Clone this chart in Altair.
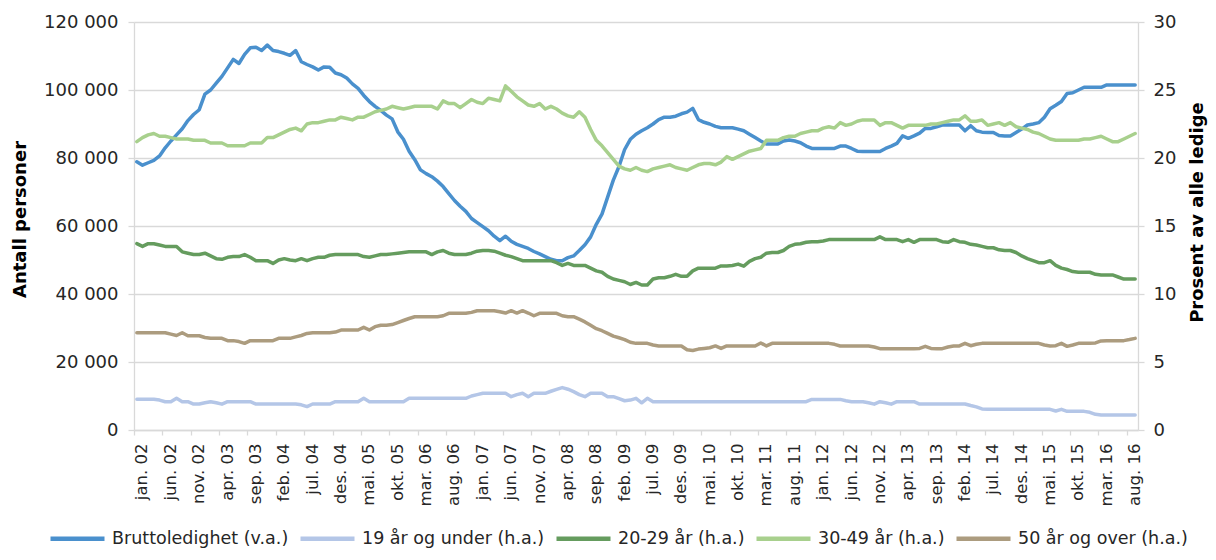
import altair as alt
import pandas as pd

# x tick labels (every 5th month, jan 2002 .. aug 2016)
tick_labels = [
    "jan. 02", "jun. 02", "nov. 02", "apr. 03", "sep. 03", "feb. 04", "jul. 04", "des. 04",
    "mai. 05", "okt. 05", "mar. 06", "aug. 06", "jan. 07", "jun. 07", "nov. 07", "apr. 08",
    "sep. 08", "feb. 09", "jul. 09", "des. 09", "mai. 10", "okt. 10", "mar. 11", "aug. 11",
    "jan. 12", "jun. 12", "nov. 12", "apr. 13", "sep. 13", "feb. 14", "jul. 14", "des. 14",
    "mai. 15", "okt. 15", "mar. 16", "aug. 16",
]

series_names = [
    "Bruttoledighet (v.a.)",
    "19 år og under (h.a.)",
    "20-29 år (h.a.)",
    "30-49 år (h.a.)",
    "50 år og over (h.a.)",
]
series_colors = ["#4A90CD", "#B4C6E7", "#659C5E", "#A8D08D", "#AC9C7F"]

# Bruttoledighet, thousands of persons (left axis), jan 2002 .. sep 2016
brutto_k = [
    78.9, 77.9, 78.6, 79.3, 80.6, 83.0, 85.0, 86.8, 88.6, 91.0,
    92.8, 94.2, 98.8, 100.0, 102.0, 104.0, 106.5, 109.0, 107.8, 110.5,
    112.4, 112.6, 111.6, 113.2, 111.6, 111.3, 110.8, 110.2, 111.6, 108.3,
    107.5, 106.8, 105.9, 106.8, 106.7, 105.0, 104.5, 103.5, 101.8, 100.5,
    98.4, 96.6, 95.2, 94.0, 92.6, 91.5, 87.7, 85.5, 82.0, 79.5,
    76.5, 75.4, 74.5, 73.2, 71.6, 69.5, 67.5, 65.8, 64.3, 62.2,
    61.0, 59.8, 58.6, 57.0, 55.7, 57.0, 55.5, 54.6, 54.0, 53.4,
    52.5, 51.8, 51.0, 50.2, 49.8, 49.8, 50.7, 51.2, 52.8, 54.5,
    56.8, 60.5, 63.5, 68.5, 73.5, 77.5, 82.5, 85.5, 87.0, 88.0,
    88.9, 90.0, 91.3, 92.0, 92.0, 92.3, 93.0, 93.5, 94.6, 91.3,
    90.5, 90.0, 89.3, 88.9, 88.9, 88.9, 88.5, 88.0, 87.0, 86.0,
    85.0, 84.1, 84.1, 84.1, 85.0, 85.3, 85.0, 84.5, 83.5, 82.8,
    82.8, 82.8, 82.8, 82.8, 83.5, 83.5, 82.8, 82.0, 81.9, 81.9,
    81.9, 81.9, 82.8, 83.5, 84.3, 86.5, 85.8, 86.5, 87.3, 88.7,
    88.7, 89.2, 89.7, 89.7, 89.7, 89.7, 88.0, 89.5, 88.0, 87.6,
    87.5, 87.5, 86.6, 86.5, 86.5, 87.5, 88.5, 89.7, 90.0, 90.4,
    92.0, 94.5, 95.5, 96.6, 99.0, 99.2, 100.0, 100.8, 100.8, 100.8,
    100.8, 101.5, 101.5, 101.5, 101.5, 101.5, 101.5,
]

# Percent of all unemployed (right axis)
u19 = [
    2.26, 2.26, 2.26, 2.26, 2.2, 2.08, 2.08, 2.33, 2.08, 2.08,
    1.91, 1.91, 2.0, 2.08, 2.0, 1.9, 2.08, 2.08, 2.08, 2.08,
    2.08, 1.91, 1.91, 1.91, 1.91, 1.91, 1.91, 1.91, 1.91, 1.85,
    1.72, 1.91, 1.91, 1.91, 1.91, 2.08, 2.08, 2.08, 2.08, 2.08,
    2.33, 2.08, 2.08, 2.08, 2.08, 2.08, 2.08, 2.08, 2.33, 2.33,
    2.33, 2.33, 2.33, 2.33, 2.33, 2.33, 2.33, 2.33, 2.33, 2.5,
    2.6, 2.7, 2.7, 2.7, 2.7, 2.7, 2.45, 2.6, 2.7, 2.45,
    2.7, 2.7, 2.7, 2.85, 2.99, 3.12, 3.0, 2.82, 2.6, 2.45,
    2.7, 2.7, 2.7, 2.45, 2.45, 2.3, 2.15, 2.2, 2.33, 2.0,
    2.33, 2.08, 2.08, 2.08, 2.08, 2.08, 2.08, 2.08, 2.08, 2.08,
    2.08, 2.08, 2.08, 2.08, 2.08, 2.08, 2.08, 2.08, 2.08, 2.08,
    2.08, 2.08, 2.08, 2.08, 2.08, 2.08, 2.08, 2.08, 2.08, 2.25,
    2.25, 2.25, 2.25, 2.25, 2.25, 2.15, 2.08, 2.08, 2.08, 2.0,
    1.9, 2.08, 2.0, 1.9, 2.08, 2.08, 2.08, 2.08, 1.91, 1.91,
    1.91, 1.91, 1.91, 1.91, 1.91, 1.91, 1.91, 1.8, 1.7, 1.55,
    1.52, 1.52, 1.52, 1.52, 1.52, 1.52, 1.52, 1.52, 1.52, 1.52,
    1.52, 1.52, 1.4, 1.52, 1.37, 1.37, 1.37, 1.37, 1.3, 1.15,
    1.1, 1.1, 1.1, 1.1, 1.1, 1.1, 1.1,
]

a2029 = [
    13.7, 13.5, 13.7, 13.7, 13.6, 13.5, 13.5, 13.5, 13.1, 13.0,
    12.9, 12.9, 13.0, 12.8, 12.6, 12.55, 12.7, 12.75, 12.75, 12.9,
    12.7, 12.45, 12.45, 12.45, 12.25, 12.5, 12.6, 12.5, 12.45, 12.6,
    12.45, 12.6, 12.7, 12.7, 12.85, 12.9, 12.9, 12.9, 12.9, 12.9,
    12.75, 12.7, 12.8, 12.9, 12.9, 12.95, 13.0, 13.05, 13.1, 13.1,
    13.1, 13.1, 12.9, 13.1, 13.2, 13.0, 12.9, 12.9, 12.9, 13.0,
    13.15, 13.2, 13.2, 13.15, 13.0, 12.85, 12.75, 12.6, 12.45, 12.45,
    12.45, 12.45, 12.45, 12.45, 12.3, 12.1, 12.25, 12.1, 12.1, 12.1,
    11.9, 11.7, 11.6, 11.3, 11.1, 11.0, 10.9, 10.7, 10.85, 10.66,
    10.66, 11.1, 11.2, 11.2, 11.3, 11.45, 11.3, 11.3, 11.7, 11.9,
    11.9, 11.9, 11.9, 12.06, 12.06, 12.1, 12.2, 12.05, 12.4, 12.6,
    12.7, 13.0, 13.05, 13.05, 13.2, 13.5, 13.65, 13.7, 13.8, 13.85,
    13.85, 13.9, 14.0, 14.0, 14.0, 14.0, 14.0, 14.0, 14.0, 14.0,
    14.0, 14.2, 14.0, 14.0, 14.0, 13.85, 14.0, 13.8, 14.0, 14.0,
    14.0, 14.0, 13.85, 13.8, 14.0, 13.85, 13.8, 13.65, 13.6, 13.5,
    13.4, 13.4, 13.25, 13.2, 13.2, 13.05, 12.8, 12.6, 12.45, 12.3,
    12.3, 12.45, 12.1, 11.9, 11.8, 11.65, 11.6, 11.6, 11.6, 11.45,
    11.4, 11.4, 11.4, 11.25, 11.1, 11.1, 11.1,
]

a3049 = [
    21.2, 21.5, 21.7, 21.8, 21.6, 21.6, 21.5, 21.4, 21.4, 21.4,
    21.3, 21.3, 21.3, 21.1, 21.1, 21.1, 20.9, 20.9, 20.9, 20.9,
    21.1, 21.1, 21.1, 21.5, 21.5, 21.7, 21.9, 22.1, 22.2, 22.0,
    22.5, 22.6, 22.6, 22.7, 22.8, 22.8, 23.0, 22.9, 22.8, 23.0,
    23.0, 23.2, 23.4, 23.5, 23.6, 23.8, 23.7, 23.6, 23.7, 23.8,
    23.8, 23.8, 23.8, 23.6, 24.2, 24.0, 24.0, 23.7, 24.0, 24.3,
    24.1, 24.0, 24.4, 24.3, 24.2, 25.3, 24.9, 24.5, 24.2, 23.9,
    23.8, 24.0, 23.6, 23.8, 23.6, 23.3, 23.1, 23.0, 23.4, 23.0,
    22.1, 21.3, 20.9, 20.4, 19.9, 19.4, 19.2, 19.1, 19.3, 19.1,
    19.0, 19.2, 19.3, 19.4, 19.5, 19.3, 19.2, 19.1, 19.3, 19.5,
    19.6, 19.6, 19.5, 19.7, 20.1, 19.9, 20.1, 20.3, 20.5, 20.6,
    20.7, 21.3, 21.3, 21.3, 21.5, 21.6, 21.6, 21.8, 21.9, 22.0,
    22.0, 22.2, 22.3, 22.2, 22.6, 22.4, 22.5, 22.7, 22.8, 22.8,
    22.8, 22.4, 22.6, 22.6, 22.4, 22.2, 22.4, 22.4, 22.4, 22.4,
    22.5, 22.5, 22.6, 22.7, 22.8, 22.8, 23.1, 22.7, 22.7, 22.8,
    22.4, 22.5, 22.6, 22.4, 22.6, 22.3, 22.2, 22.1, 21.9, 21.8,
    21.6, 21.4, 21.3, 21.3, 21.3, 21.3, 21.3, 21.4, 21.4, 21.5,
    21.6, 21.4, 21.2, 21.2, 21.4, 21.6, 21.8,
]

o50 = [
    7.15, 7.15, 7.15, 7.15, 7.15, 7.15, 7.05, 6.95, 7.15, 6.93,
    6.93, 6.93, 6.8, 6.74, 6.74, 6.74, 6.57, 6.57, 6.5, 6.37,
    6.57, 6.57, 6.57, 6.57, 6.57, 6.74, 6.74, 6.74, 6.85, 6.95,
    7.1, 7.15, 7.15, 7.15, 7.15, 7.2, 7.35, 7.35, 7.35, 7.35,
    7.55, 7.35, 7.6, 7.7, 7.7, 7.75, 7.9, 8.05, 8.2, 8.33,
    8.33, 8.33, 8.33, 8.33, 8.4, 8.58, 8.58, 8.58, 8.58, 8.65,
    8.77, 8.77, 8.77, 8.77, 8.7, 8.6, 8.77, 8.6, 8.77, 8.6,
    8.4, 8.58, 8.58, 8.58, 8.58, 8.4, 8.33, 8.33, 8.15, 7.95,
    7.7, 7.45, 7.3, 7.1, 6.9, 6.78, 6.65, 6.45, 6.37, 6.37,
    6.37, 6.25, 6.18, 6.18, 6.18, 6.18, 6.18, 5.9, 5.85, 5.95,
    6.0, 6.05, 6.18, 6.0, 6.18, 6.18, 6.18, 6.18, 6.18, 6.18,
    6.4, 6.18, 6.37, 6.37, 6.37, 6.37, 6.37, 6.37, 6.37, 6.37,
    6.37, 6.37, 6.37, 6.3, 6.18, 6.18, 6.18, 6.18, 6.18, 6.18,
    6.1, 5.98, 5.98, 5.98, 5.98, 5.98, 5.98, 5.98, 6.0, 6.15,
    6.0, 5.98, 5.98, 6.1, 6.18, 6.18, 6.37, 6.2, 6.3, 6.37,
    6.37, 6.37, 6.37, 6.37, 6.37, 6.37, 6.37, 6.37, 6.37, 6.37,
    6.25, 6.18, 6.2, 6.37, 6.15, 6.25, 6.37, 6.37, 6.37, 6.4,
    6.55, 6.57, 6.57, 6.57, 6.57, 6.65, 6.74,
]

n = len(brutto_k)

left_df = pd.DataFrame({
    "i": list(range(n)),
    "value": [v * 1000 for v in brutto_k],
    "series": series_names[0],
})
right_df = pd.concat(
    [
        pd.DataFrame({"i": list(range(n)), "value": vals, "series": name})
        for name, vals in zip(series_names[1:], [u19, a2029, a3049, o50])
    ],
    ignore_index=True,
)

label_array = "[" + ",".join("'" + s + "'" for s in tick_labels) + "]"

x_enc = alt.X(
    "i:Q",
    scale=alt.Scale(domain=[-0.5, n - 0.5], nice=False, zero=False),
    axis=alt.Axis(
        values=list(range(0, n, 5)),
        labelExpr=label_array + "[round(datum.value / 5)]",
        labelAngle=270,
        labelAlign="right",
        labelBaseline="middle",
        tickOffset=-2.84,
        labelOffset=8,
        tickSize=5,
        labelPadding=8,
        labelFontSize=16.5,
        labelFont="DejaVu Sans",
        title=None,
        grid=False,
        labelOverlap=False,
    ),
)

color_enc = alt.Color(
    "series:N",
    scale=alt.Scale(domain=series_names, range=series_colors),
    legend=alt.Legend(
        title=None,
        orient="none",
        legendX=-86,
        legendY=487,
        direction="horizontal",
        columns=5,
        symbolType="stroke",
        symbolSize=2916,
        symbolStrokeWidth=4.5,
        labelFont="DejaVu Sans",
        labelFontSize=17.5,
        labelColor="#262626",
        labelLimit=0,
        labelOffset=5,
        columnPadding=2,
        padding=0,
    ),
)

left = alt.Chart(left_df).mark_line(strokeWidth=3.5, strokeJoin="round", strokeCap="round").encode(
    x=x_enc,
    y=alt.Y(
        "value:Q",
        scale=alt.Scale(domain=[0, 120000], nice=False),
        axis=alt.Axis(
            orient="left",
            values=[0, 20000, 40000, 60000, 80000, 100000, 120000],
            labelExpr="replace(format(datum.value, ','), ',', ' ')",
            labelFontSize=18,
            labelPadding=10,
            tickSize=6,
            grid=True,
            title="Antall personer",
            titleX=-114,
            titleY=197,
            titleAngle=270,
            titleAlign="center",
            titleBaseline="middle",
        ),
    ),
    color=color_enc,
)

right = alt.Chart(right_df).mark_line(strokeWidth=3.5, strokeJoin="round", strokeCap="round").encode(
    x=x_enc,
    y=alt.Y(
        "value:Q",
        scale=alt.Scale(domain=[0, 30], nice=False),
        axis=alt.Axis(
            orient="right",
            values=[0, 5, 10, 15, 20, 25, 30],
            labelFontSize=18,
            labelPadding=9,
            tickSize=6,
            grid=False,
            title="Prosent av alle ledige",
            titleX=59,
            titleY=190,
            titleAngle=270,
            titleAlign="center",
            titleBaseline="middle",
        ),
    ),
    color=color_enc,
)

chart = (
    alt.layer(left, right)
    .resolve_scale(y="independent")
    .properties(
        width=1004,
        height=408,
        padding={"left": 126, "top": 14, "right": 70, "bottom": 118},
        autosize=alt.AutoSizeParams(type="none"),
        background="white",
    )
    .configure_view(stroke=None)
    .configure_axis(
        domainColor="#D9D9D9",
        tickColor="#D9D9D9",
        gridColor="#D9D9D9",
        gridWidth=1.3,
        domainWidth=1.3,
        tickWidth=1.3,
        labelColor="#262626",
        labelFont="DejaVu Sans",
        titleColor="#000000",
        titleFont="DejaVu Sans",
        titleFontSize=18,
        titleFontWeight="bold",
    )
)

chart.save("out.html", embed_options={"renderer": "svg", "actions": False})
